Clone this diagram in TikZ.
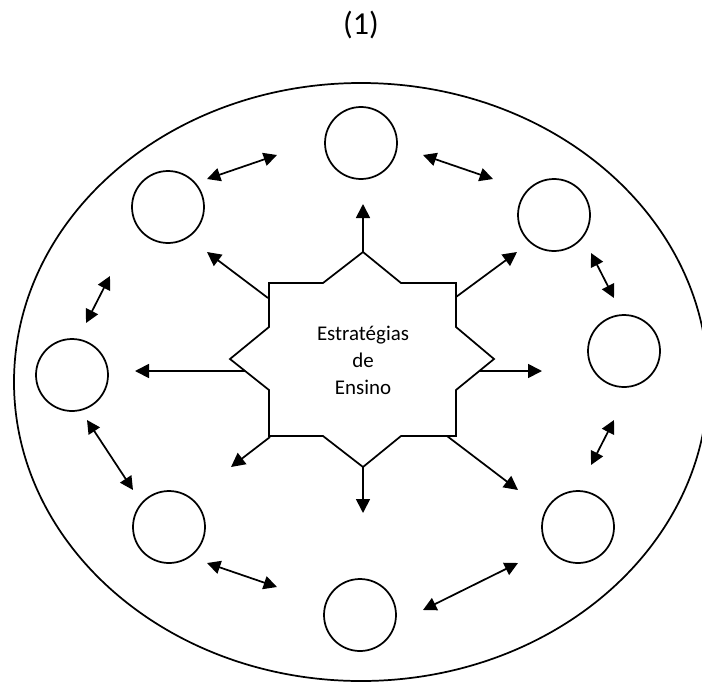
\documentclass[tikz,border=0pt]{standalone}
\usepackage{fontspec}
\setmainfont{Carlito}
\usetikzlibrary{arrows.meta}
\begin{document}
\begin{tikzpicture}[x=0.75pt,y=-0.75pt,
  outline/.style={line width=1.3pt},
  bubble/.style={draw, circle, line width=1.3pt, minimum size=54pt, inner sep=0pt},
  spoke/.style={line width=1.3pt, -{Triangle[length=10.5pt,width=10.5pt]}},
  twoway/.style={line width=1.3pt, {Triangle[length=10pt,width=10pt]}-{Triangle[length=10pt,width=10pt]}},
]
\useasboundingbox (0,0) rectangle (702,682);

% caption
\node[font=\fontsize{24pt}{28pt}\selectfont] (title) at (361,25) {(1)};

% enclosing ellipse
\draw[outline] (361,382) ellipse [x radius=347, y radius=299];

% eight-pointed central figure
\draw[outline, line join=miter] (363,252) -- (401,283) -- (456,283) -- (456,327) -- (494,359)
  -- (456,390) -- (456,436) -- (401,436) -- (363,467) -- (323,436) -- (269,436)
  -- (269,390) -- (230,359) -- (269,327) -- (269,283) -- (323,283) -- cycle;
\node[font=\fontsize{15.7pt}{20.3pt}\selectfont, align=center] (core) at (363,360)
  {Estratégias\\de\\Ensino};

% surrounding circles
\node[bubble] (cT)  at (361,143) {};
\node[bubble] (cUL) at (168,207) {};
\node[bubble] (cUR) at (554,215) {};
\node[bubble] (cL)  at (72,375) {};
\node[bubble] (cR)  at (624,351) {};
\node[bubble] (cLL) at (169,527) {};
\node[bubble] (cLR) at (578,527) {};
\node[bubble] (cB)  at (360,615) {};

% spoke start points on the central figure and their tips
\coordinate (sN)  at (363,252); \coordinate (tN)  at (363,204);
\coordinate (sNE) at (456,297); \coordinate (tNE) at (517,252);
\coordinate (sE)  at (480,371); \coordinate (tE)  at (542,371);
\coordinate (sSE) at (447,436); \coordinate (tSE) at (518,490);
\coordinate (sS)  at (363,467); \coordinate (tS)  at (363,513);
\coordinate (sSW) at (270,437); \coordinate (tSW) at (231,467);
\coordinate (sW)  at (245,371); \coordinate (tW)  at (135,371);
\coordinate (sNW) at (268,298); \coordinate (tNW) at (207,252);

\foreach \d in {N,NE,E,SE,S,SW,W,NW}
  \draw[spoke] (s\d) -- (t\d);

% two-way links between neighbouring circles
\coordinate (p1a) at (207,179); \coordinate (p1b) at (277,155);
\coordinate (p2a) at (423,155); \coordinate (p2b) at (493,179);
\coordinate (p3a) at (591,253); \coordinate (p3b) at (614,298);
\coordinate (p4a) at (110,276); \coordinate (p4b) at (86,323);
\coordinate (p5a) at (614,420); \coordinate (p5b) at (591,465);
\coordinate (p6a) at (87,420);  \coordinate (p6b) at (133,490);
\coordinate (p7a) at (207,563); \coordinate (p7b) at (277,587);
\coordinate (p8a) at (423,610); \coordinate (p8b) at (518,563);

\foreach \k in {1,...,8}
  \draw[twoway] (p\k a) -- (p\k b);
\end{tikzpicture}
\end{document}
